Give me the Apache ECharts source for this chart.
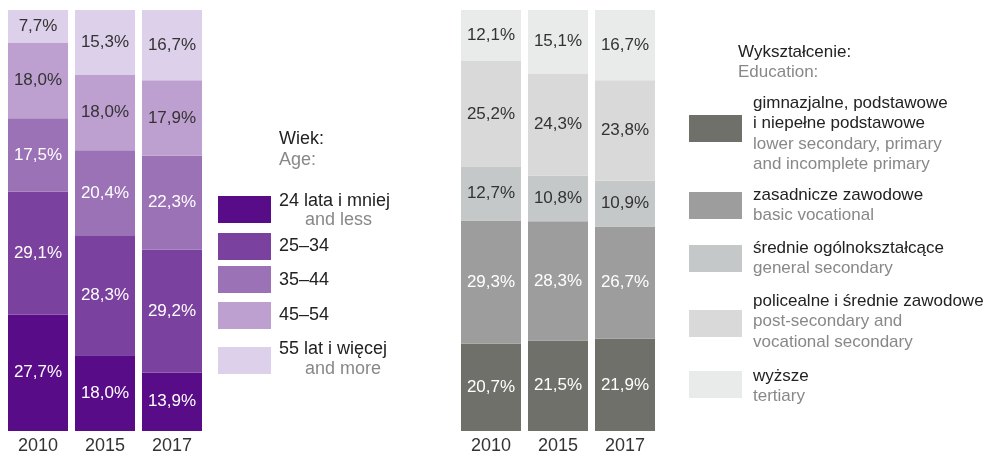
<!DOCTYPE html>
<html><head><meta charset="utf-8">
<script src="https://cdn.jsdelivr.net/npm/echarts@6/dist/echarts.min.js"></script>
<style>html,body{margin:0;padding:0;background:#fff}#c{width:999px;height:455px}</style>
</head><body><div id="c"></div>
<script>
const years = ['2010', '2015', '2017'];

// Age (left chart)
const ageNames = ['24 lata i mniej', '25–34', '35–44', '45–54', '55 lat i więcej'];
const ageNamesEn = ['and less', '', '', '', 'and more'];
const age24 = [27.7, 18.0, 13.9];
const age25_34 = [29.1, 28.3, 29.2];
const age35_44 = [17.5, 20.4, 22.3];
const age45_54 = [18.0, 18.0, 17.9];
const age55 = [7.7, 15.3, 16.7];
const ageColors = ['#580c87', '#7b419e', '#9c72b7', '#bd9fd0', '#ddd0ea'];
const ageLabelColors = ['#ffffff', '#ffffff', '#ffffff', '#333333', '#333333'];

// Education (right chart)
const eduNames = [['gimnazjalne, podstawowe', 'i niepełne podstawowe'], ['zasadnicze zawodowe'], ['średnie ogólnokształcące'], ['policealne i średnie zawodowe'], ['wyższe']];
const eduNamesEn = [['lower secondary, primary', 'and incomplete primary'], ['basic vocational'], ['general secondary'], ['post-secondary and', 'vocational secondary'], ['tertiary']];
const eduLower = [20.7, 21.5, 21.9];
const eduBasic = [29.3, 28.3, 26.7];
const eduGeneral = [12.7, 10.8, 10.9];
const eduPost = [25.2, 24.3, 23.8];
const eduTertiary = [12.1, 15.1, 16.7];
const eduColors = ['#70706b', '#9d9d9d', '#c5c8c8', '#d9d9d9', '#e9eaea'];
const eduLabelColors = ['#ffffff', '#ffffff', '#333333', '#333333', '#333333'];

const ageData = [age24, age25_34, age35_44, age45_54, age55];
const eduData = [eduLower, eduBasic, eduGeneral, eduPost, eduTertiary];

const FONT = '"Liberation Sans", Arial, sans-serif';
const fmt = p => p.value.toFixed(1).replace('.', ',') + '%';

function mkSeries(data, names, colors, labelColors, idx, stack) {
  return data.map((d, i) => ({
    type: 'bar', name: Array.isArray(names[i]) ? names[i].join(' ') : names[i],
    stack: stack, xAxisIndex: idx, yAxisIndex: idx, data: d, barWidth: 60,
    itemStyle: { color: colors[i] },
    label: { show: true, position: 'inside', formatter: fmt, color: labelColors[i], fontSize: 17, fontFamily: FONT },
    emphasis: { disabled: true }
  }));
}

const graphics = [];
function txt(x, y, s, color, size) {
  graphics.push({ type: 'text', left: x, top: y - size / 2 - 1, style: { text: s, fill: color, font: size + 'px ' + FONT } });
}
function rect(x, y, w, h, c) {
  graphics.push({ type: 'rect', shape: { x: x, y: y, width: w, height: h }, style: { fill: c } });
}
// left legend
const LS = 18;
txt(279, 140, 'Wiek:', '#222', LS);
txt(279, 161, 'Age:', '#888', LS);
const ageSw = [196, 233, 266, 302, 347];
const ageTx = [[202, 221], [247], [281], [316], [350, 370]];
ageNames.forEach((n, i) => {
  rect(218, ageSw[i], 53, 27, ageColors[i]);
  txt(279, ageTx[i][0], n, '#222', LS);
  if (ageNamesEn[i]) txt(305, ageTx[i][1], ageNamesEn[i], '#888', LS);
});
// right legend
const RS = 17;
txt(738, 53, 'Wykształcenie:', '#222', RS);
txt(738, 73, 'Education:', '#888', RS);
const eduSw = [115, 192, 245, 310, 371];
const eduTop = [104, 196, 249, 302, 377];
eduNames.forEach((n, i) => {
  rect(689, eduSw[i], 53, 27, eduColors[i]);
  let y = eduTop[i];
  n.forEach(l => { txt(753, y, l, '#222', RS); y += 20.5; });
  eduNamesEn[i].forEach(l => { txt(753, y, l, '#888', RS); y += 20.5; });
});

const axisCommon = {
  type: 'category', data: years, axisLine: { show: false }, axisTick: { show: false },
  axisLabel: { fontSize: 18, color: '#333', fontFamily: FONT, margin: 6 }
};
const yCommon = { type: 'value', min: 0, max: 100, show: false };

const chart = echarts.init(document.getElementById('c'), null, { renderer: 'canvas' });
chart.setOption({
  animation: false,
  grid: [
    { left: 4.5, top: 10, width: 201, height: 423 },
    { left: 457.5, top: 10, width: 201, height: 423 }
  ],
  xAxis: [Object.assign({ gridIndex: 0 }, axisCommon), Object.assign({ gridIndex: 1 }, axisCommon)],
  yAxis: [Object.assign({ gridIndex: 0 }, yCommon), Object.assign({ gridIndex: 1 }, yCommon)],
  series: mkSeries(ageData, ageNames, ageColors, ageLabelColors, 0, 'age')
    .concat(mkSeries(eduData, eduNames, eduColors, eduLabelColors, 1, 'edu')),
  graphic: graphics
});
</script></body></html>
